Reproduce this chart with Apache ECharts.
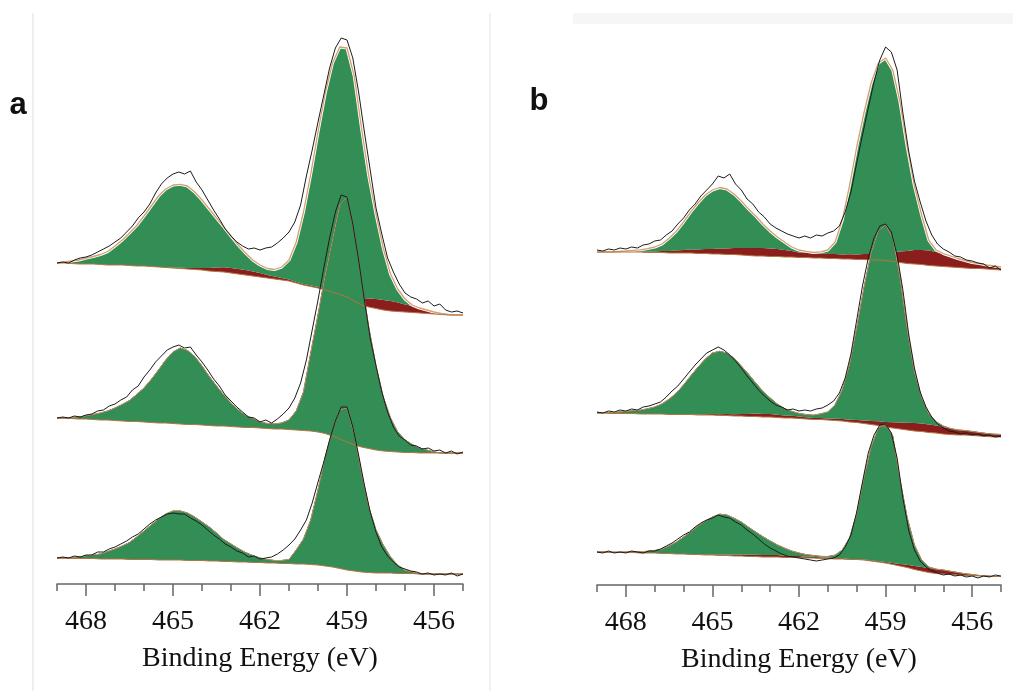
<!DOCTYPE html>
<html><head><meta charset="utf-8">
<script src="https://cdn.jsdelivr.net/npm/echarts@6/dist/echarts.min.js"></script>
<style>html,body{margin:0;padding:0;background:#fff}#c{width:1013px;height:691px}</style>
</head><body><div id="c"></div>
<script>
// Binding-energy sample grids (eV), decreasing from 469 to 455
const fitEnergy = Array.from({length:57},(_,i)=>+(469-0.25*i).toFixed(2));
const rawEnergy = Array.from({length:71},(_,i)=>+(469-0.2*i).toFixed(2));
const tickLabels = [456,459,462,465,468];
const axisTitle = 'Binding Energy (eV)';

// ---------- panel a, top spectrum ----------
const aTopBackground = [321,321,320.5,320,320,320,319.5,319,319,319,318.5,318,318,317.5,317,316.5,316,315.5,315,314.5,314,313,312.5,312,311,310,309,308,307,306,305,304,303,301,299,297.5,296,294,292,289.5,287,283,279,277,275.5,274,273,272.5,272,271.5,271,270.5,270,269.5,269,269,269];
const aTopTi3 = [0,0,0,0,0,0,0,0,0,0,0,0,0,0,0,0,0.5,0.7,1,1.5,2,3,4,4.7,5,5,5,4.5,4,3,2.5,2,1.5,1,1,1,1,1,1,2,3,5,7,8.5,9.5,10,10,9,7.5,6.5,5,3.5,2,1,0.5,0,0];
const aTopTi4 = [0,1,2.5,4,6,7.5,10,13.5,19,25,32.5,40.5,50,60.5,71,78.5,82.5,83.5,82,76,68,59,49.5,40.5,32,24,17,11.5,8,6.5,7,11,19.5,40,72,111.5,155,196,228,245.5,246,220,170,122.5,85,52,27,13.5,5.5,1,0,0,0,0,0,0,0];
const aTopMeasured = [321,322,321,324,326,327,329,332,335,338,342,346,352,358,366,372,380,391,400,406,410,412,410,413,402,394,384,374,365,355,348,342,338,335,336,334,336,337,341,346,352,362,379,408,434,462,489,516,536,546,544,526,492,452,414,376,350,326,312,300,291,287,285,281,283,278,280,274,272,273,271];

// ---------- panel a, middle spectrum ----------
const aMidBackground = [166,166,165.5,165,165,164.5,164,164,163.5,163,162.5,162.5,162,161.5,161,161,160.5,160,159.5,159.5,159,158.5,158,158,157.5,157,156.5,156.5,156,155.5,155,155,154.5,154,153.5,153,152,150.5,148,145,142,139,137,135.5,134,133,132.5,132,131.5,131.5,131,131,131,131,131,131,131];
const aMidTi3 = [0,0,0,0,0,0,0,0,0,0,0,0,0,0,0,0,0,0,0,0,0,0,0,0,0,0,0,0,0,0,0,0,0,0,0,0,0,0,0,0,0,0,0,0,0,0,0,0,0,0,0,0,0,0,0,0,0];
const aMidTi4 = [0,0,1,2,3,5,7,9,12.5,16.5,21,27,34,43,53,63,71.5,76,74,68,59,49,40,31,23.5,17,12,9,6,5,5,6,9.5,19,38.5,78,117,158.5,196,234,245,213,167,121,84,54,33.5,20,12.5,8,5,3,1,0,0,0,0];
const aMidMeasured = [166,167,166,168,167,169,170,173,174,178,180,184,187,194,198,207,214,222,228,234,237,239,236,237,229,222,214,205,198,189,183,177,172,167,166,162,164,161,165,170,176,186,201,224,254,284,316,346,372,389,387,360,324,284,246,218,192,172,157,148,144,139,138,135,136,133,134,131,133,130,132];

// ---------- panel a, bottom spectrum ----------
const aBotBackground = [26,26,25.5,25.5,25.5,25.5,25,25,25,25,24.5,24.5,24.5,24.5,24,24,24,24,23.5,23.5,23.5,23,23,22.5,22.5,22,22,21.5,21.5,21,21,20.5,20.5,20,20,19.5,19,18,17,15.5,14,13,12,11.5,11,11,11,10.5,10.5,10.5,10,10,10,10,10,10,10];
const aBotTi3 = [0,0,0,0,0,0,0,0,0,0,0,0,0,0,0,0,0,0,0,0,0,0,0,0,0,0,0,0,0,0,0,0,0,0,0,0,0,0,0,0,0,0,0,0,0,0,0,0,0,0,0,0,0,0,0,0,0];
const aBotTi4 = [0,0,1,1.5,2.5,3.5,5,7.5,10,13,17,22.5,28.5,34.5,41,46,49,49,47.5,43.5,38.5,34,28,22,17.5,13.5,9.5,7,4.5,3.5,2.5,3,4,14,25,44.5,75,109,137,158.5,162,136,99,65.5,43,28,16,8.5,3,1.5,0,0,0,0,0,0,0];
const aBotMeasured = [26,27,26,28,27,29,29,32,32,35,37,40,43,47,50,55,60,64,67,70,71,70,70,66,63,59,54,49,45,40,37,33,31,27,28,25,26,27,30,34,39,45,54,64,81,102,122,144,163,177,177,157,129,99,72,52,37,28,22,17,15,13,12,10,11,9,10,9,11,8,10];

// ---------- panel b, top spectrum ----------
const bTopBackground = [333,333,333,333,333,333,333,332.5,332.5,332.5,332,332,332,332,331.5,331.5,331,331,330.5,330.5,330,329.5,329,329,328.5,328.5,328,328,327.5,327.5,327,327,326.5,326.5,326,326,325.5,325.5,325,325,324.5,323.5,322.5,321.5,321,320.5,319.5,319,318.5,318,317.5,317,316.5,316.5,316,315.5,315];
const bTopTi3 = [0,0,0,0,0,0.3,0.5,0.7,1,1.5,2,2.5,3,3.5,4,4.5,5,5.5,6,6.5,7,7.5,8,8,8,7.5,7,6,5,4.7,4.5,4.5,4.5,4.5,4.5,4.7,5,5.5,6,7,8,9.5,11,12.5,14,14.5,15,14,13,11,9,7.5,6,5,4,3.5,3];
const bTopTi4 = [0,0,0,0.5,1,1.3,1.7,3.2,4.5,7,12.8,19.4,28,37.7,46.5,54,59,61,59.5,54,47,39,32,24,17.5,12,8,4,2.5,1.5,1,1.7,4,12,34.5,68.5,107.5,141,171,190,194.5,182,149.5,104,64,35,10.3,2,0,0,0,0,0,0,0,0,0];
const bTopMeasured = [335,334,336,335,337,336,338,337,340,341,344,345,350,354,361,367,375,381,389,395,401,409,407,411,401,395,386,381,373,368,361,357,354,351,349,347,349,347,350,349,352,354,359,373,393,422,450,477,503,525,538,533,515,472,434,404,383,364,350,341,336,333,329,328,325,324,322,321,317,319,315];

// ---------- panel b, middle spectrum ----------
const bMidBackground = [172,172,171.5,171.5,171.5,171.5,171,171,171,171,170.5,170.5,170.5,170.5,170,170,170,169.5,169.5,169,169,168.5,168.5,168,168,167.5,167,167,166.5,166,165.5,165.5,165,164.5,164,163,162.5,161.5,160.5,159.5,158,157,156,155,154,153.5,152.5,152,151,150.5,150,150,149.5,149,148.5,148,148];
const bMidTi3 = [0,0,0,0,0,0,0,0,0,0,0,0,0,0.3,0.5,0.8,1,1.2,1.5,1.8,2,2.5,3,3,3,2.8,2.5,2.2,2,1.8,1.5,1.5,1.5,1.8,2,2.2,2.5,3,3.5,4.2,5,5.8,6.5,7.2,8,8,8,7.5,7,6,5,4.5,4,3.5,3,2.8,2.5];
const bMidTi4 = [0,0.3,0.8,1.4,2,2.8,3.8,5.2,7,10,15.3,21.4,29.5,38.3,47.3,55,61,63,61,56,48,39.8,30.5,22.8,16,10.6,6.8,4.4,3,2.6,2.8,4.1,6.5,13.8,29.2,54.7,92,132.5,168,190.5,197,184,144.5,92.8,51,25.7,10.5,3.7,1,0,0,0,0,0,0,0,0];
const bMidMeasured = [173,172,174,173,175,174,176,175,178,179,181,183,188,194,199,206,213,220,226,232,235,238,235,230,224,217,209,202,195,189,184,180,178,175,176,174,175,174,176,177,180,184,192,207,231,265,299,327,347,359,361,353,330,295,251,217,193,178,168,161,157,154,153,151,152,150,151,149,150,148,149];

// ---------- panel b, bottom spectrum ----------
const bBotBackground = [33,33,32.5,32.5,32.5,32.5,32,32,32,31.5,31.5,31,31,30.5,30.5,30,30,29.5,29.5,29,29,28.5,28.5,28,28,28,27.5,27.5,27.5,27,27,26.5,26.5,26,26,25.5,25.5,25,24,23,22,20.5,19,17.5,15.5,14,12.5,11.5,11,10.5,10,9.5,9.5,9,9,8.5,8.5];
const bBotTi3 = [0,0,0,0,0,0,0,0,0,0,0,0,0,0,0,0.3,0.5,0.8,1,1.2,1.5,1.7,1.8,2,2,2,1.8,1.6,1.5,1.3,1.2,1.1,1,0.8,0.7,0.6,0.5,0.6,0.7,0.8,1,1.5,2,2.8,3.5,4,4.5,4.3,4,3.2,2.5,1.7,1,0.5,0,0,0];
const bBotTi4 = [0,0,0.3,0.4,0.5,0.8,1.3,1.7,2.5,4.3,7.5,11.8,17,22.8,28.5,33.5,37.5,40.5,39.5,36.6,32.5,27.6,22.7,18.3,14,10.1,7.5,4.8,3,2,1.3,1,1,3,8.3,20.7,45,81.6,113.3,133.2,138,127,84,46.9,21,7,1,0,0,0,0,0,0,0,0,0,0];
const bBotMeasured = [33,32,34,32,33,32,34,33,32,34,34,36,39,42,46,50,53,58,62,65,67,70,68,67,63,60,55,51,46,41,37,34,31,29,28,27,26,25,24,25,26,27,30,38,50,73,103,132,150,160,161,152,127,87,55,35,24,18,14,12,10,11,9,10,8,9,7,9,8,10,9];

const GREEN = '#338e56', RED = '#8c1d1d', TAN = '#d4a070', BROWN = '#b37440', INK = '#1c1c1c', OUTLINE = '#183a22';

function pairs(xs, ys){ return xs.map((x,i)=>[x, ys[i]]); }

// filled band between two curves, drawn through the axis scales (api.coord)
function band(g, lower, upper, color){
  const pts = fitEnergy.map((x,i)=>[x, lower[i], upper[i]]);
  return {
    type:'custom', xAxisIndex:g*2, yAxisIndex:g, silent:true, animation:false,
    data:pts, encode:{x:0, y:[1,2]},
    renderItem:(params, api)=>{
      if (params.dataIndex !== 0) return null;
      const top = pts.map(p=>api.coord([p[0], p[2]]));
      const bot = pts.map(p=>api.coord([p[0], p[1]])).reverse();
      return {type:'polygon', shape:{points:top.concat(bot)}, style:{fill:color, stroke:null}};
    }
  };
}

function spectrum(g, bg, ti3, ti4, meas, halo){
  const redTop = bg.map((b,i)=>b + ti3[i]);
  const env = redTop.map((r,i)=>r + ti4[i]);
  const line = {type:'line', xAxisIndex:g*2, yAxisIndex:g, symbol:'none', silent:true, animation:false};
  const out = [band(g, bg, redTop, RED), band(g, redTop, env, GREEN)];
  if (halo) {
    out.push(Object.assign({}, line, {data:pairs(fitEnergy,env), lineStyle:{color:'#ffffff', width:3}}));
  } else {
    out.push(Object.assign({}, line, {data:pairs(fitEnergy,env), lineStyle:{color:OUTLINE, width:1}}));
  }
  out.push(Object.assign({}, line, {data:pairs(fitEnergy,env), lineStyle:{color:TAN, width:halo?1.3:0.9}}));
  out.push(Object.assign({}, line, {data:pairs(fitEnergy,bg), lineStyle:{color:BROWN, width:1}}));
  out.push(Object.assign({}, line, {data:pairs(rawEnergy,meas), lineStyle:{color:INK, width:1}}));
  return out;
}

const labelFont = {fontFamily:'Liberation Serif', fontSize:28, color:'#111'};

function xAxes(g){
  return [
    {type:'value', gridIndex:g, min:455, max:469, interval:1, inverse:true, position:'bottom',
     axisLine:{lineStyle:{color:'#666', width:1.5}},
     axisTick:{length:7, lineStyle:{color:'#666', width:1.5}},
     splitLine:{show:false},
     axisLabel:Object.assign({margin:24, formatter:v=>tickLabels.includes(v)?String(v):''}, labelFont),
     name:axisTitle, nameLocation:'middle', nameGap:61,
     nameTextStyle:labelFont},
    {type:'value', gridIndex:g, min:455, max:469, inverse:true, position:'bottom',
     axisLine:{show:false},
     axisTick:{length:12, customValues:tickLabels, lineStyle:{color:'#666', width:1.5}},
     axisLabel:{show:false}, splitLine:{show:false}}
  ];
}

const chart = echarts.init(document.getElementById('c'), null, {renderer:'canvas'});
chart.setOption({
  animation:false,
  backgroundColor:'#ffffff',
  grid:[
    {left:57, right:550, top:30, bottom:107},
    {left:597, right:12, top:30, bottom:106}
  ],
  xAxis:[].concat(xAxes(0), xAxes(1)),
  yAxis:[
    {type:'value', gridIndex:0, min:0, max:554, show:false},
    {type:'value', gridIndex:1, min:0, max:555, show:false}
  ],
  graphic:[
    {type:'rect', shape:{x:32, y:13, width:2, height:678}, style:{fill:'#efefef'}, silent:true},
    {type:'rect', shape:{x:489, y:13, width:2, height:678}, style:{fill:'#f1f1f1'}, silent:true},
    {type:'rect', shape:{x:573, y:13, width:440, height:11}, style:{fill:'#f6f6f6'}, silent:true},
    {type:'text', x:18, y:105, style:{text:'a', font:'bold 31px "Liberation Sans"', fill:'#111', align:'center', verticalAlign:'middle'}},
    {type:'text', x:539, y:101, style:{text:'b', font:'bold 31px "Liberation Sans"', fill:'#111', align:'center', verticalAlign:'middle'}}
  ],
  series:[].concat(
    spectrum(0,aTopBackground,aTopTi3,aTopTi4,aTopMeasured,true),
    spectrum(0,aMidBackground,aMidTi3,aMidTi4,aMidMeasured,false),
    spectrum(0,aBotBackground,aBotTi3,aBotTi4,aBotMeasured,false),
    spectrum(1,bTopBackground,bTopTi3,bTopTi4,bTopMeasured,true),
    spectrum(1,bMidBackground,bMidTi3,bMidTi4,bMidMeasured,false),
    spectrum(1,bBotBackground,bBotTi3,bBotTi4,bBotMeasured,false)
  )
});
</script>
</body></html>
